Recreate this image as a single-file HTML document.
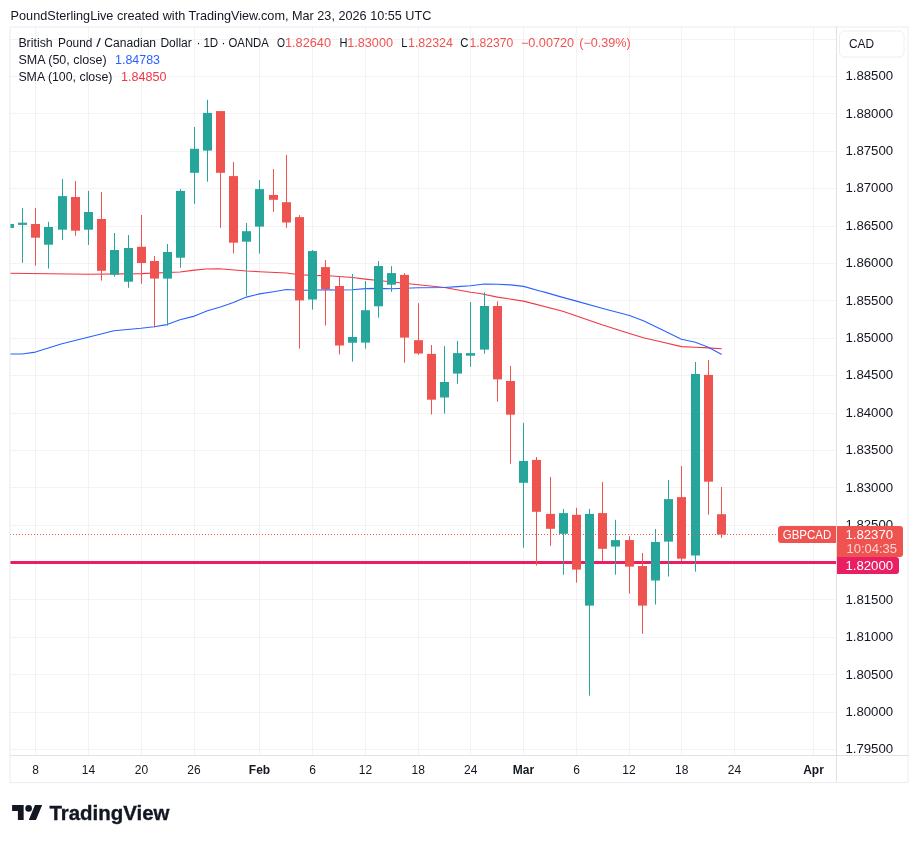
<!DOCTYPE html>
<html lang="en"><head><meta charset="utf-8"><title>GBPCAD chart</title>
<style>html,body{margin:0;padding:0;background:#fff}body{width:918px;height:843px;overflow:hidden}svg{display:block}text{font-family:"Liberation Sans",sans-serif}</style>
</head><body>
<svg width="918" height="843" viewBox="0 0 918 843">
<rect width="918" height="843" fill="#fff"/>
<text x="10.6" y="19.9" font-size="13.1" fill="#131722" textLength="420.8" lengthAdjust="spacingAndGlyphs">PoundSterlingLive created with TradingView.com, Mar 23, 2026 10:55 UTC</text>
<defs><clipPath id="pane"><rect x="10" y="27" width="826" height="728"/></clipPath></defs>
<g fill="#f3f3f4" shape-rendering="crispEdges">
<rect x="10" y="39" width="826" height="1"/>
<rect x="10" y="76" width="826" height="1"/>
<rect x="10" y="113" width="826" height="1"/>
<rect x="10" y="151" width="826" height="1"/>
<rect x="10" y="188" width="826" height="1"/>
<rect x="10" y="226" width="826" height="1"/>
<rect x="10" y="263" width="826" height="1"/>
<rect x="10" y="300" width="826" height="1"/>
<rect x="10" y="338" width="826" height="1"/>
<rect x="10" y="375" width="826" height="1"/>
<rect x="10" y="413" width="826" height="1"/>
<rect x="10" y="450" width="826" height="1"/>
<rect x="10" y="487" width="826" height="1"/>
<rect x="10" y="525" width="826" height="1"/>
<rect x="10" y="562" width="826" height="1"/>
<rect x="10" y="599" width="826" height="1"/>
<rect x="10" y="637" width="826" height="1"/>
<rect x="10" y="674" width="826" height="1"/>
<rect x="10" y="712" width="826" height="1"/>
<rect x="10" y="749" width="826" height="1"/>
<rect x="35" y="27" width="1" height="728"/>
<rect x="88" y="27" width="1" height="728"/>
<rect x="141" y="27" width="1" height="728"/>
<rect x="194" y="27" width="1" height="728"/>
<rect x="259" y="27" width="1" height="728"/>
<rect x="312" y="27" width="1" height="728"/>
<rect x="365" y="27" width="1" height="728"/>
<rect x="418" y="27" width="1" height="728"/>
<rect x="470" y="27" width="1" height="728"/>
<rect x="523" y="27" width="1" height="728"/>
<rect x="576" y="27" width="1" height="728"/>
<rect x="629" y="27" width="1" height="728"/>
<rect x="681" y="27" width="1" height="728"/>
<rect x="734" y="27" width="1" height="728"/>
<rect x="813" y="27" width="1" height="728"/>
</g>
<rect x="10" y="561" width="826" height="3" fill="#e91e63" shape-rendering="crispEdges"/>
<g clip-path="url(#pane)" fill="none" stroke-linejoin="round" stroke-linecap="round">
<path d="M10.0,273.2 L88.0,274.3 L141.0,273.6 L180.0,272.0 L194.4,270.1 L206.0,269.0 L219.0,268.8 L246.4,271.0 L259.5,271.7 L286.3,273.0 L299.4,274.7 L312.5,275.4 L332.5,276.0 L352.5,277.5 L365.4,279.1 L378.3,280.5 L404.4,283.3 L418.4,284.7 L444.5,287.5 L470.5,292.3 L480.0,293.5 L497.5,297.1 L523.6,301.1 L562.8,311.2 L576.5,315.9 L602.0,324.7 L629.5,333.4 L643.4,337.7 L660.8,341.7 L681.4,346.6 L695.3,347.2 L708.4,347.9 L721.3,348.8" stroke="#f23645" stroke-width="1.1"/>
<path d="M10.0,354.0 L22.0,354.0 L35.5,352.1 L62.0,343.8 L88.0,337.3 L114.0,330.7 L141.0,328.3 L154.0,326.8 L167.0,324.6 L180.0,319.7 L194.4,316.1 L207.5,310.7 L220.5,307.0 L233.4,302.6 L246.4,297.1 L259.5,293.9 L273.5,291.7 L286.3,289.5 L299.4,290.2 L312.5,290.2 L325.5,289.7 L339.5,290.0 L352.5,289.7 L365.4,288.6 L378.3,288.4 L391.6,288.8 L418.4,287.7 L444.5,287.5 L457.4,286.6 L470.5,285.8 L484.4,284.0 L497.5,284.2 L510.5,284.9 L523.6,286.4 L540.8,291.2 L545.4,292.4 L560.0,296.6 L576.5,301.1 L602.0,308.3 L629.5,315.5 L643.4,320.7 L661.0,329.2 L681.4,339.2 L695.3,342.2 L708.4,347.2 L721.3,354.2" stroke="#2962ff" stroke-width="1.1"/>
</g>
<g clip-path="url(#pane)">
<rect x="9.00" y="224.0" width="1" height="3.9" fill="#26a69a"/><rect x="5.00" y="224.0" width="9" height="3.9" fill="#26a69a"/>
<rect x="22.00" y="207.9" width="1" height="54.9" fill="#26a69a"/><rect x="18.00" y="222.7" width="9" height="2.2" fill="#26a69a"/>
<rect x="35.00" y="207.9" width="1" height="57.7" fill="#ef5350"/><rect x="31.00" y="224.0" width="9" height="13.7" fill="#ef5350"/>
<rect x="48.00" y="221.8" width="1" height="46.8" fill="#26a69a"/><rect x="44.00" y="227.0" width="9" height="17.7" fill="#26a69a"/>
<rect x="62.00" y="178.9" width="1" height="61.0" fill="#26a69a"/><rect x="58.00" y="196.1" width="9" height="33.6" fill="#26a69a"/>
<rect x="75.00" y="181.1" width="1" height="54.7" fill="#ef5350"/><rect x="71.00" y="197.0" width="9" height="33.7" fill="#ef5350"/>
<rect x="88.00" y="190.9" width="1" height="54.0" fill="#26a69a"/><rect x="84.00" y="212.0" width="9" height="17.7" fill="#26a69a"/>
<rect x="101.00" y="192.0" width="1" height="88.6" fill="#ef5350"/><rect x="97.00" y="219.0" width="9" height="51.8" fill="#ef5350"/>
<rect x="114.00" y="233.0" width="1" height="43.7" fill="#26a69a"/><rect x="110.00" y="250.0" width="9" height="24.7" fill="#26a69a"/>
<rect x="128.00" y="235.0" width="1" height="52.8" fill="#26a69a"/><rect x="124.00" y="248.0" width="9" height="33.7" fill="#26a69a"/>
<rect x="141.00" y="215.0" width="1" height="68.7" fill="#ef5350"/><rect x="137.00" y="246.8" width="9" height="16.2" fill="#ef5350"/>
<rect x="154.00" y="256.0" width="1" height="71.5" fill="#ef5350"/><rect x="150.00" y="261.0" width="9" height="17.6" fill="#ef5350"/>
<rect x="167.00" y="244.0" width="1" height="81.7" fill="#26a69a"/><rect x="163.00" y="252.0" width="9" height="26.6" fill="#26a69a"/>
<rect x="180.00" y="189.1" width="1" height="78.6" fill="#26a69a"/><rect x="176.00" y="190.9" width="9" height="66.8" fill="#26a69a"/>
<rect x="194.00" y="127.0" width="1" height="76.7" fill="#26a69a"/><rect x="190.00" y="148.8" width="9" height="24.0" fill="#26a69a"/>
<rect x="207.00" y="99.8" width="1" height="81.9" fill="#26a69a"/><rect x="203.00" y="112.9" width="9" height="37.7" fill="#26a69a"/>
<rect x="220.00" y="111.1" width="1" height="116.6" fill="#ef5350"/><rect x="216.00" y="111.1" width="9" height="61.7" fill="#ef5350"/>
<rect x="233.00" y="162.1" width="1" height="91.3" fill="#ef5350"/><rect x="229.00" y="176.1" width="9" height="66.6" fill="#ef5350"/>
<rect x="246.00" y="222.9" width="1" height="72.7" fill="#26a69a"/><rect x="242.00" y="231.2" width="9" height="10.5" fill="#26a69a"/>
<rect x="259.00" y="180.0" width="1" height="73.6" fill="#26a69a"/><rect x="255.00" y="189.1" width="9" height="37.5" fill="#26a69a"/>
<rect x="273.00" y="169.1" width="1" height="42.7" fill="#ef5350"/><rect x="269.00" y="195.0" width="9" height="4.8" fill="#ef5350"/>
<rect x="286.00" y="154.9" width="1" height="72.8" fill="#ef5350"/><rect x="282.00" y="202.2" width="9" height="20.3" fill="#ef5350"/>
<rect x="299.00" y="215.1" width="1" height="133.5" fill="#ef5350"/><rect x="295.00" y="217.1" width="9" height="83.3" fill="#ef5350"/>
<rect x="312.00" y="250.0" width="1" height="59.6" fill="#26a69a"/><rect x="308.00" y="251.1" width="9" height="48.4" fill="#26a69a"/>
<rect x="325.00" y="260.0" width="1" height="65.5" fill="#ef5350"/><rect x="321.00" y="267.1" width="9" height="22.0" fill="#ef5350"/>
<rect x="339.00" y="276.4" width="1" height="78.0" fill="#ef5350"/><rect x="335.00" y="286.0" width="9" height="59.5" fill="#ef5350"/>
<rect x="352.00" y="274.0" width="1" height="87.6" fill="#26a69a"/><rect x="348.00" y="337.0" width="9" height="5.7" fill="#26a69a"/>
<rect x="365.00" y="281.0" width="1" height="67.6" fill="#26a69a"/><rect x="361.00" y="310.2" width="9" height="32.4" fill="#26a69a"/>
<rect x="378.00" y="261.0" width="1" height="56.7" fill="#26a69a"/><rect x="374.00" y="266.0" width="9" height="40.3" fill="#26a69a"/>
<rect x="391.00" y="266.1" width="1" height="25.8" fill="#26a69a"/><rect x="387.00" y="273.1" width="9" height="11.6" fill="#26a69a"/>
<rect x="404.00" y="273.1" width="1" height="89.6" fill="#ef5350"/><rect x="400.00" y="274.9" width="9" height="62.7" fill="#ef5350"/>
<rect x="418.00" y="303.2" width="1" height="51.6" fill="#ef5350"/><rect x="414.00" y="340.2" width="9" height="13.3" fill="#ef5350"/>
<rect x="431.00" y="345.0" width="1" height="69.5" fill="#ef5350"/><rect x="427.00" y="353.9" width="9" height="45.8" fill="#ef5350"/>
<rect x="444.00" y="346.1" width="1" height="67.5" fill="#26a69a"/><rect x="440.00" y="382.0" width="9" height="15.5" fill="#26a69a"/>
<rect x="457.00" y="340.9" width="1" height="42.9" fill="#26a69a"/><rect x="453.00" y="353.1" width="9" height="20.5" fill="#26a69a"/>
<rect x="470.00" y="302.1" width="1" height="64.7" fill="#26a69a"/><rect x="466.00" y="353.1" width="9" height="2.6" fill="#26a69a"/>
<rect x="484.00" y="292.3" width="1" height="61.4" fill="#26a69a"/><rect x="480.00" y="306.0" width="9" height="43.6" fill="#26a69a"/>
<rect x="497.00" y="301.4" width="1" height="100.3" fill="#ef5350"/><rect x="493.00" y="306.0" width="9" height="73.4" fill="#ef5350"/>
<rect x="510.00" y="366.0" width="1" height="97.8" fill="#ef5350"/><rect x="506.00" y="381.0" width="9" height="33.7" fill="#ef5350"/>
<rect x="523.00" y="422.9" width="1" height="124.8" fill="#26a69a"/><rect x="519.00" y="461.0" width="9" height="21.8" fill="#26a69a"/>
<rect x="536.00" y="457.0" width="1" height="108.6" fill="#ef5350"/><rect x="532.00" y="459.9" width="9" height="51.9" fill="#ef5350"/>
<rect x="550.00" y="476.9" width="1" height="68.9" fill="#ef5350"/><rect x="546.00" y="513.9" width="9" height="14.9" fill="#ef5350"/>
<rect x="563.00" y="508.9" width="1" height="65.8" fill="#26a69a"/><rect x="559.00" y="513.1" width="9" height="20.7" fill="#26a69a"/>
<rect x="576.00" y="507.8" width="1" height="74.9" fill="#ef5350"/><rect x="572.00" y="514.8" width="9" height="54.8" fill="#ef5350"/>
<rect x="589.00" y="508.9" width="1" height="186.7" fill="#26a69a"/><rect x="585.00" y="513.9" width="9" height="91.7" fill="#26a69a"/>
<rect x="602.00" y="482.1" width="1" height="78.7" fill="#ef5350"/><rect x="598.00" y="513.1" width="9" height="35.7" fill="#ef5350"/>
<rect x="615.00" y="519.8" width="1" height="54.9" fill="#26a69a"/><rect x="611.00" y="540.1" width="9" height="6.5" fill="#26a69a"/>
<rect x="629.00" y="536.2" width="1" height="57.4" fill="#ef5350"/><rect x="625.00" y="540.1" width="9" height="26.5" fill="#ef5350"/>
<rect x="642.00" y="552.9" width="1" height="80.8" fill="#ef5350"/><rect x="638.00" y="566.0" width="9" height="39.6" fill="#ef5350"/>
<rect x="655.00" y="529.0" width="1" height="75.5" fill="#26a69a"/><rect x="651.00" y="542.0" width="9" height="38.5" fill="#26a69a"/>
<rect x="668.00" y="480.0" width="1" height="96.5" fill="#26a69a"/><rect x="664.00" y="499.1" width="9" height="42.5" fill="#26a69a"/>
<rect x="681.00" y="466.0" width="1" height="95.2" fill="#ef5350"/><rect x="677.00" y="497.1" width="9" height="61.6" fill="#ef5350"/>
<rect x="695.00" y="362.0" width="1" height="209.6" fill="#26a69a"/><rect x="691.00" y="374.0" width="9" height="181.5" fill="#26a69a"/>
<rect x="708.00" y="359.9" width="1" height="154.8" fill="#ef5350"/><rect x="704.00" y="374.9" width="9" height="106.8" fill="#ef5350"/>
<rect x="721.00" y="486.9" width="1" height="50.9" fill="#ef5350"/><rect x="717.00" y="514.2" width="9" height="20.4" fill="#ef5350"/>
</g>
<line x1="10" y1="534.5" x2="778" y2="534.5" stroke="#ef5350" stroke-width="1" stroke-dasharray="1 2" shape-rendering="crispEdges"/>
<g fill="none" stroke="#ebebed" shape-rendering="crispEdges">
<rect x="10" y="27" width="898" height="755.6" stroke="#ececef" shape-rendering="geometricPrecision"/>
<line x1="836.5" y1="27" x2="836.5" y2="782" stroke="#e1e1e4"/>
</g>
<rect x="10" y="755" width="898" height="1" fill="#e1e1e4" shape-rendering="crispEdges"/>
<text x="18.4" y="46.8" font-size="12" fill="#131722" textLength="34.3" lengthAdjust="spacingAndGlyphs">British</text>
<text x="58.0" y="46.8" font-size="12" fill="#131722" textLength="34.4" lengthAdjust="spacingAndGlyphs">Pound</text>
<text x="96.2" y="46.8" font-size="12" fill="#131722" textLength="4.6" lengthAdjust="spacingAndGlyphs">/</text>
<text x="104.3" y="46.8" font-size="12" fill="#131722" textLength="51.8" lengthAdjust="spacingAndGlyphs">Canadian</text>
<text x="160.4" y="46.8" font-size="12" fill="#131722" textLength="31.4" lengthAdjust="spacingAndGlyphs">Dollar</text>
<text x="196.6" y="46.8" font-size="12" fill="#131722">·</text>
<text x="203.4" y="46.8" font-size="12" fill="#131722" textLength="14.8" lengthAdjust="spacingAndGlyphs">1D</text>
<text x="221.4" y="46.8" font-size="12" fill="#131722">·</text>
<text x="228.5" y="46.8" font-size="12" fill="#131722" textLength="40.4" lengthAdjust="spacingAndGlyphs">OANDA</text>
<text x="277.0" y="46.8" font-size="12" fill="#131722" textLength="8.0" lengthAdjust="spacingAndGlyphs">O</text>
<text x="284.9" y="46.8" font-size="12" fill="#ef5350" textLength="46.2" lengthAdjust="spacingAndGlyphs">1.82640</text>
<text x="339.4" y="46.8" font-size="12" fill="#131722" textLength="8.0" lengthAdjust="spacingAndGlyphs">H</text>
<text x="347.2" y="46.8" font-size="12" fill="#ef5350" textLength="45.8" lengthAdjust="spacingAndGlyphs">1.83000</text>
<text x="401.3" y="46.8" font-size="12" fill="#131722" textLength="6.2" lengthAdjust="spacingAndGlyphs">L</text>
<text x="408.0" y="46.8" font-size="12" fill="#ef5350" textLength="44.9" lengthAdjust="spacingAndGlyphs">1.82324</text>
<text x="460.3" y="46.8" font-size="12" fill="#131722" textLength="8.2" lengthAdjust="spacingAndGlyphs">C</text>
<text x="469.4" y="46.8" font-size="12" fill="#ef5350" textLength="43.8" lengthAdjust="spacingAndGlyphs">1.82370</text>
<text x="520.9" y="46.8" font-size="12" fill="#ef5350" textLength="53.2" lengthAdjust="spacingAndGlyphs">−0.00720</text>
<text x="579.2" y="46.8" font-size="12" fill="#ef5350" textLength="51.6" lengthAdjust="spacingAndGlyphs">(−0.39%)</text>
<text x="18.4" y="63.8" font-size="12" fill="#131722" textLength="88.2" lengthAdjust="spacingAndGlyphs">SMA (50, close)</text>
<text x="115.0" y="63.8" font-size="12" fill="#2962ff" textLength="45.0" lengthAdjust="spacingAndGlyphs">1.84783</text>
<text x="18.4" y="80.7" font-size="12" fill="#131722" textLength="94.0" lengthAdjust="spacingAndGlyphs">SMA (100, close)</text>
<text x="121.0" y="80.7" font-size="12" fill="#f23645" textLength="45.5" lengthAdjust="spacingAndGlyphs">1.84850</text>
<rect x="839.5" y="31" width="64.5" height="26" rx="5" fill="#fff" stroke="#eeeef0"/>
<text x="849" y="48.2" font-size="12" fill="#131722" textLength="25" lengthAdjust="spacingAndGlyphs">CAD</text>
<text x="845.4" y="80.3" font-size="12" fill="#131722" textLength="47.8" lengthAdjust="spacingAndGlyphs">1.88500</text>
<text x="845.4" y="117.69" font-size="12" fill="#131722" textLength="47.8" lengthAdjust="spacingAndGlyphs">1.88000</text>
<text x="845.4" y="155.07999999999998" font-size="12" fill="#131722" textLength="47.8" lengthAdjust="spacingAndGlyphs">1.87500</text>
<text x="845.4" y="192.47" font-size="12" fill="#131722" textLength="47.8" lengthAdjust="spacingAndGlyphs">1.87000</text>
<text x="845.4" y="229.86" font-size="12" fill="#131722" textLength="47.8" lengthAdjust="spacingAndGlyphs">1.86500</text>
<text x="845.4" y="267.25" font-size="12" fill="#131722" textLength="47.8" lengthAdjust="spacingAndGlyphs">1.86000</text>
<text x="845.4" y="304.64" font-size="12" fill="#131722" textLength="47.8" lengthAdjust="spacingAndGlyphs">1.85500</text>
<text x="845.4" y="342.03000000000003" font-size="12" fill="#131722" textLength="47.8" lengthAdjust="spacingAndGlyphs">1.85000</text>
<text x="845.4" y="379.42" font-size="12" fill="#131722" textLength="47.8" lengthAdjust="spacingAndGlyphs">1.84500</text>
<text x="845.4" y="416.81" font-size="12" fill="#131722" textLength="47.8" lengthAdjust="spacingAndGlyphs">1.84000</text>
<text x="845.4" y="454.2" font-size="12" fill="#131722" textLength="47.8" lengthAdjust="spacingAndGlyphs">1.83500</text>
<text x="845.4" y="491.59000000000003" font-size="12" fill="#131722" textLength="47.8" lengthAdjust="spacingAndGlyphs">1.83000</text>
<text x="845.4" y="528.98" font-size="12" fill="#131722" textLength="47.8" lengthAdjust="spacingAndGlyphs">1.82500</text>
<text x="845.4" y="566.37" font-size="12" fill="#131722" textLength="47.8" lengthAdjust="spacingAndGlyphs">1.82000</text>
<text x="845.4" y="603.76" font-size="12" fill="#131722" textLength="47.8" lengthAdjust="spacingAndGlyphs">1.81500</text>
<text x="845.4" y="641.15" font-size="12" fill="#131722" textLength="47.8" lengthAdjust="spacingAndGlyphs">1.81000</text>
<text x="845.4" y="678.54" font-size="12" fill="#131722" textLength="47.8" lengthAdjust="spacingAndGlyphs">1.80500</text>
<text x="845.4" y="715.93" font-size="12" fill="#131722" textLength="47.8" lengthAdjust="spacingAndGlyphs">1.80000</text>
<text x="845.4" y="753.3199999999999" font-size="12" fill="#131722" textLength="47.8" lengthAdjust="spacingAndGlyphs">1.79500</text>
<path d="M781,526 H836 V543 H781 a3,3 0 0 1 -3,-3 V529 a3,3 0 0 1 3,-3 Z" fill="#ef5350"/>
<text x="782.7" y="538.9" font-size="12" fill="#fff" textLength="48.6" lengthAdjust="spacingAndGlyphs">GBPCAD</text>
<path d="M837,526 H900 a3,3 0 0 1 3,3 V554 a3,3 0 0 1 -3,3 H837 Z" fill="#ef5350"/>
<text x="845.4" y="538.9" font-size="12" fill="#fff" textLength="47.8" lengthAdjust="spacingAndGlyphs">1.82370</text>
<text x="846.5" y="552.6" font-size="12" fill="#fff" textLength="50.5" lengthAdjust="spacingAndGlyphs" fill-opacity="0.75">10:04:35</text>
<path d="M837,557 H896 a3,3 0 0 1 3,3 V571 a3,3 0 0 1 -3,3 H837 Z" fill="#e91e63"/>
<text x="845.4" y="570.0" font-size="12" fill="#fff" textLength="47.8" lengthAdjust="spacingAndGlyphs">1.82000</text>
<text x="35.5" y="773.8" font-size="12" fill="#131722" text-anchor="middle">8</text>
<text x="88.5" y="773.8" font-size="12" fill="#131722" text-anchor="middle">14</text>
<text x="141.4" y="773.8" font-size="12" fill="#131722" text-anchor="middle">20</text>
<text x="194" y="773.8" font-size="12" fill="#131722" text-anchor="middle">26</text>
<text x="259.5" y="773.8" font-size="12" fill="#131722" font-weight="bold" text-anchor="middle">Feb</text>
<text x="312.5" y="773.8" font-size="12" fill="#131722" text-anchor="middle">6</text>
<text x="365.5" y="773.8" font-size="12" fill="#131722" text-anchor="middle">12</text>
<text x="418.3" y="773.8" font-size="12" fill="#131722" text-anchor="middle">18</text>
<text x="470.7" y="773.8" font-size="12" fill="#131722" text-anchor="middle">24</text>
<text x="523.5" y="773.8" font-size="12" fill="#131722" font-weight="bold" text-anchor="middle">Mar</text>
<text x="576.5" y="773.8" font-size="12" fill="#131722" text-anchor="middle">6</text>
<text x="629" y="773.8" font-size="12" fill="#131722" text-anchor="middle">12</text>
<text x="681.7" y="773.8" font-size="12" fill="#131722" text-anchor="middle">18</text>
<text x="734.5" y="773.8" font-size="12" fill="#131722" text-anchor="middle">24</text>
<text x="813.5" y="773.8" font-size="12" fill="#131722" font-weight="bold" text-anchor="middle">Apr</text>
<g transform="translate(12.1,801.8) scale(0.826)" fill="#131722"><path d="M14 22H7V11H0V4h14v18zM28.9 22h-8.7l7.5-18h8.7z"/><circle cx="20" cy="8" r="4"/></g>
<text x="49.4" y="819.5" font-size="20.8" fill="#131722" textLength="120.0" lengthAdjust="spacingAndGlyphs" font-weight="bold" stroke="#131722" stroke-width="0.35">TradingView</text>
</svg>
</body></html>
